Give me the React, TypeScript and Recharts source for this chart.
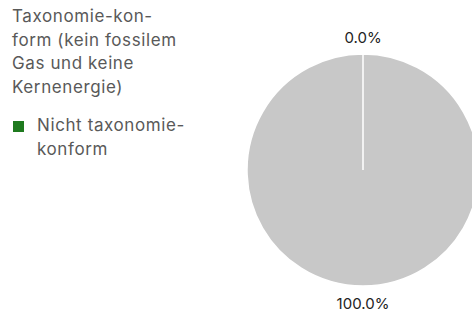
import { Pie, PieChart, Cell } from "recharts";

// legend names keep the original line breaks of the source
const SEGMENTS = [
	"Taxonomie-kon-\nform (kein fossilem\nGas und keine\nKernenergie)",
	"Nicht taxonomie-\nkonform",
];
const SHARES = [0, 100];
const SLICE_COLORS = ["#c8c8c8", "#c8c8c8"];
const LEGEND_COLORS = ["", "#1f7a1f"];

const DATA = SEGMENTS.map((name, i) => ({ name, value: SHARES[i] }));

const RAD = Math.PI / 180;
const FONT = "Inter, Roboto, sans-serif";

function renderLabel(props: any) {
	const { cx, cy, midAngle, outerRadius, value } = props;
	const r = outerRadius + 17;
	const x = cx + r * Math.cos(-midAngle * RAD);
	const y = cy + r * Math.sin(-midAngle * RAD);
	return (
		<text
			x={x}
			y={y}
			fill="#222"
			fontSize={15}
			fontFamily={FONT}
			textAnchor="middle"
			dominantBaseline="central"
		>
			{`${Number(value).toFixed(1)}%`}
		</text>
	);
}

function LegendBlock() {
	const text = { whiteSpace: "pre-line" as const, letterSpacing: "0.6px" };
	return (
		<div style={{ position: "absolute", left: 0, top: 0, fontFamily: FONT, fontSize: 17, lineHeight: "23.5px", color: "#595959" }}>
			{SEGMENTS.map((name, i) =>
				LEGEND_COLORS[i] ? (
					<div key={name} style={{ position: "absolute", left: 13, top: 114, width: 200 }}>
						<span style={{ position: "absolute", left: 0, top: 7, width: 11, height: 11, background: LEGEND_COLORS[i] }} />
						<div style={{ marginLeft: 24, ...text }}>{name}</div>
					</div>
				) : (
					<div key={name} style={{ position: "absolute", left: 12, top: 5, width: 200, ...text }}>
						{name}
					</div>
				),
			)}
		</div>
	);
}

export default function App() {
	return (
		<div style={{ position: "absolute", left: 0, top: 0, width: 472, height: 313, overflow: "hidden", background: "#fff" }}>
			<PieChart width={490} height={313} margin={{ top: 0, right: 0, bottom: 0, left: 0 }}>
				<Pie
					data={DATA}
					dataKey="value"
					nameKey="name"
					cx={363}
					cy={170}
					outerRadius={116}
					startAngle={90}
					endAngle={-270}
					stroke="#fff"
					strokeWidth={1.5}
					label={renderLabel}
					labelLine={false}
					isAnimationActive={false}
				>
					{DATA.map((d, i) => (
						<Cell key={d.name} fill={SLICE_COLORS[i]} />
					))}
				</Pie>
			</PieChart>
			<LegendBlock />
		</div>
	);
}
